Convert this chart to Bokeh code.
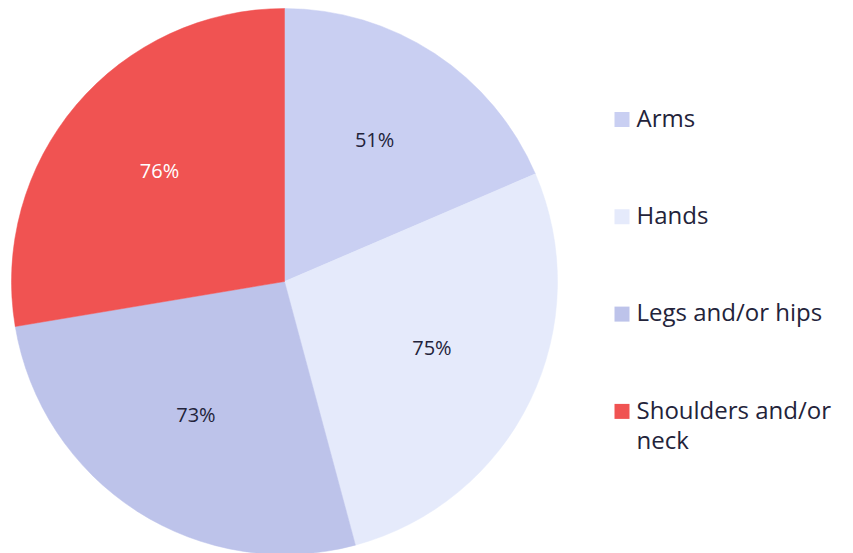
import math
from bokeh.plotting import figure
from bokeh.models import Range1d, ColumnDataSource
from bokeh.core.properties import value
from bokeh.embed import file_html
from bokeh.resources import INLINE

categories = ["Arms", "Hands", "Legs and/or hips", "Shoulders and/or\nneck"]
values = [51, 75, 73, 76]
labels = ["51%", "75%", "73%", "76%"]
colors = ["#C9CFF2", "#E5EAFB", "#BDC3EA", "#F05352"]
label_colors = ["#23233A", "#23233A", "#23233A", "#FFFFFF"]

W, H = 853, 553
cx, cy, r = 284, H - 281, 273

total = sum(values)
starts, ends, lx, ly = [], [], [], []
cum = 0
for v in values:
    a0 = math.pi / 2 - 2 * math.pi * cum / total
    cum += v
    a1 = math.pi / 2 - 2 * math.pi * cum / total
    starts.append(a0)
    ends.append(a1)
    mid = (a0 + a1) / 2
    lx.append(cx + 0.6 * r * math.cos(mid))
    ly.append(cy + 0.6 * r * math.sin(mid) + 5)

src = ColumnDataSource(dict(start=starts, end=ends, color=colors, lx=lx, ly=ly,
                            label=labels, lcolor=label_colors))

p = figure(width=W, height=H, x_range=Range1d(0, W), y_range=Range1d(0, H),
           output_backend="svg", toolbar_location=None, min_border=0,
           background_fill_color="white", border_fill_color="white")
p.axis.visible = False
p.grid.visible = False
p.outline_line_color = None

p.wedge(x=cx, y=cy, radius=r, start_angle="start", end_angle="end",
        direction="clock", fill_color="color", line_color="color", line_width=0.5,
        source=src)
p.text(x="lx", y="ly", text="label", text_color="lcolor", source=src,
       text_align="center", text_baseline="middle", text_font=value("Open Sans"),
       text_font_size="20px")

# legend
n = len(categories)
fs = 24
leg_y = [H - (119 + 97.3 * i) for i in range(n)]
txt_y = [y + fs * 0.62 + 4 for y in leg_y]
leg_src = ColumnDataSource(dict(y=leg_y, ty=txt_y, color=colors, cat=categories,
                                sx=[621.5] * n, tx=[636] * n))
p.rect(x="sx", y="y", width=15, height=15, fill_color="color", line_color=None,
       source=leg_src)
p.text(x="tx", y="ty", text="cat", source=leg_src, text_align="left",
       text_baseline="top", text_font=value("Open Sans"), text_font_size=f"{fs}px",
       text_color="#23233A", text_line_height=0.93)

open("out.html", "w").write(file_html(p, INLINE))
